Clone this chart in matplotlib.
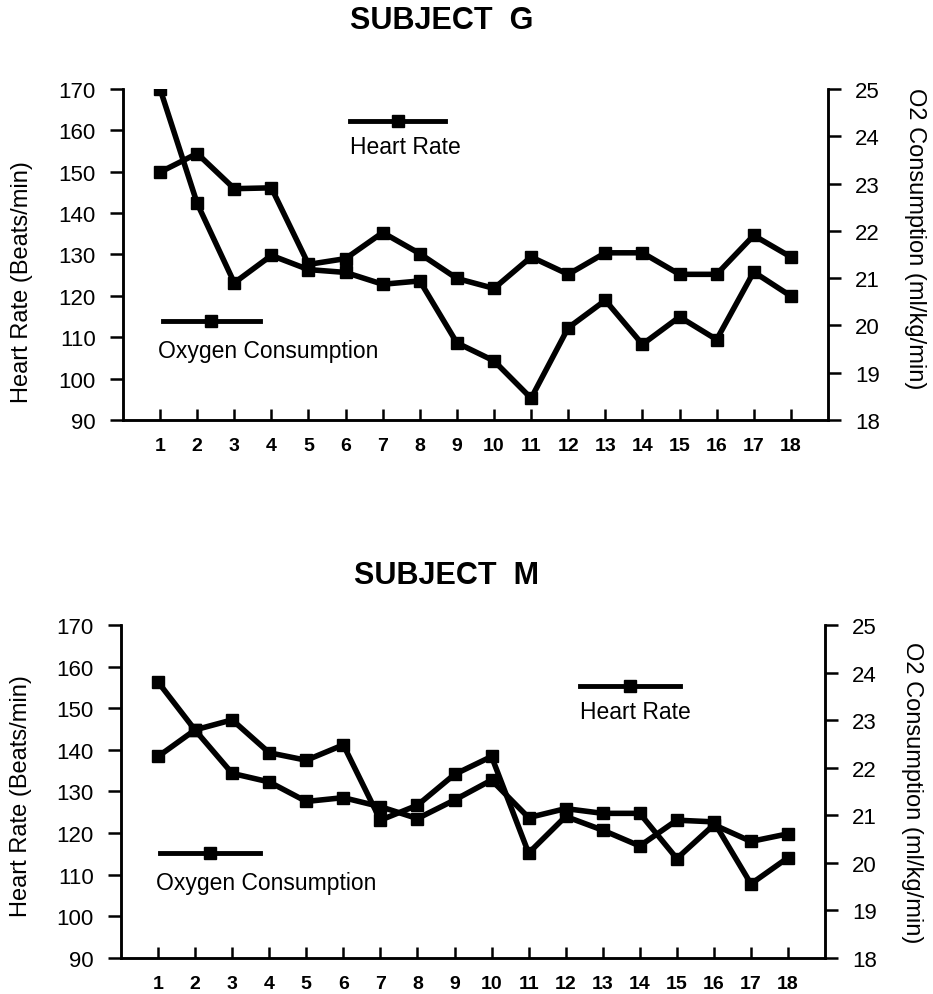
import matplotlib
matplotlib.use("Agg")
import matplotlib.pyplot as plt

plt.rcParams['font.family'] = ['Liberation Sans', 'DejaVu Sans']

sessions = list(range(1, 19))

# subject G
hr_g = [149.9, 154.4, 145.9, 146.1, 127.6, 129.0, 135.3, 130.2, 124.2, 121.8,
        129.4, 125.2, 130.4, 130.4, 125.2, 125.2, 134.6, 129.4]
o2_g = [25.0, 22.58, 20.90, 21.48, 21.18, 21.12, 20.87, 20.94, 19.63, 19.25,
        18.46, 19.95, 20.53, 19.60, 20.18, 19.70, 21.13, 20.62]

# subject M
hr_m = [138.4, 144.8, 147.2, 139.3, 137.5, 141.2, 123.1, 126.7, 134.1, 138.4,
        115.2, 124.0, 120.7, 116.9, 123.1, 122.7, 107.8, 114.1]
o2_m = [23.80, 22.79, 21.88, 21.70, 21.29, 21.37, 21.18, 20.93, 21.32, 21.74,
        20.95, 21.14, 21.04, 21.04, 20.09, 20.80, 20.45, 20.61]

hr_ticks = list(range(90, 171, 10))
o2_ticks = list(range(18, 26))

LW = 4
MS = 9


def key(ax, x0, x1, y, tx, ty, label):
    # hand-drawn legend key: line with a square in the middle, text below
    ax.plot([x0, x1], [y, y], color='black', lw=LW - 0.5, transform=ax.transAxes,
            clip_on=False)
    ax.plot([(x0 + x1) / 2], [y], 's', color='black', ms=MS - 1,
            transform=ax.transAxes, clip_on=False)
    ax.text(tx, ty, label, transform=ax.transAxes, fontsize=16.5,
            ha='left', va='center')


def panel(rect, hr, o2, hr_key, o2_key, ly, ry):
    ax = fig.add_axes(rect)
    ax2 = ax.twinx()

    ax.plot(sessions, hr, color='black', lw=LW, marker='s', ms=MS)
    ax2.plot(sessions, o2, color='black', lw=LW, marker='s', ms=MS)

    ax.set_xlim(0, 19)
    ax.set_ylim(90, 170)
    ax2.set_ylim(18, 25)
    ax.set_xticks(sessions)
    ax.set_yticks(hr_ticks)
    ax2.set_yticks(o2_ticks)

    for a in (ax, ax2):
        a.spines['top'].set_visible(False)
        for s in ('left', 'right', 'bottom'):
            a.spines[s].set_linewidth(1.8)

    ax.tick_params(axis='y', direction='out', length=9.5, width=1.8,
                   labelsize=16, pad=10)
    ax2.tick_params(axis='y', direction='out', length=9.5, width=1.8,
                    labelsize=16, pad=10)
    ax.tick_params(axis='x', direction='in', length=8, width=1.8,
                   labelsize=14, pad=12)
    for lab in ax.get_xticklabels():
        lab.set_fontweight('bold')

    ax.set_ylabel('Heart Rate (Beats/min)', fontsize=17)
    ax.yaxis.set_label_coords(-0.127, ly)
    ax2.set_ylabel('O2 Consumption (ml/kg/min)', fontsize=17, rotation=270,
                   va='center')
    ax2.yaxis.set_label_coords(1.124, ry)

    key(ax, *hr_key, 'Heart Rate')
    key(ax, *o2_key, 'Oxygen Consumption')
    return ax


fig = plt.figure(figsize=(9.33, 9.95), dpi=100)

panel([0.1318, 0.5769, 0.7556, 0.3327], hr_g, o2_g,
      (0.322, 0.457, 0.903, 0.322, 0.825),
      (0.057, 0.194, 0.299, 0.050, 0.211), 0.42, 0.55)
fig.text(0.473, 0.979, 'SUBJECT  G', fontsize=22, fontweight='bold',
         ha='center', va='center')

panel([0.1297, 0.0362, 0.7546, 0.3347], hr_m, o2_m,
      (0.652, 0.794, 0.817, 0.652, 0.739),
      (0.055, 0.197, 0.315, 0.050, 0.228), 0.49, 0.50)
fig.text(0.479, 0.421, 'SUBJECT  M', fontsize=22, fontweight='bold',
         ha='center', va='center')

fig.savefig('out.png', dpi=100)
